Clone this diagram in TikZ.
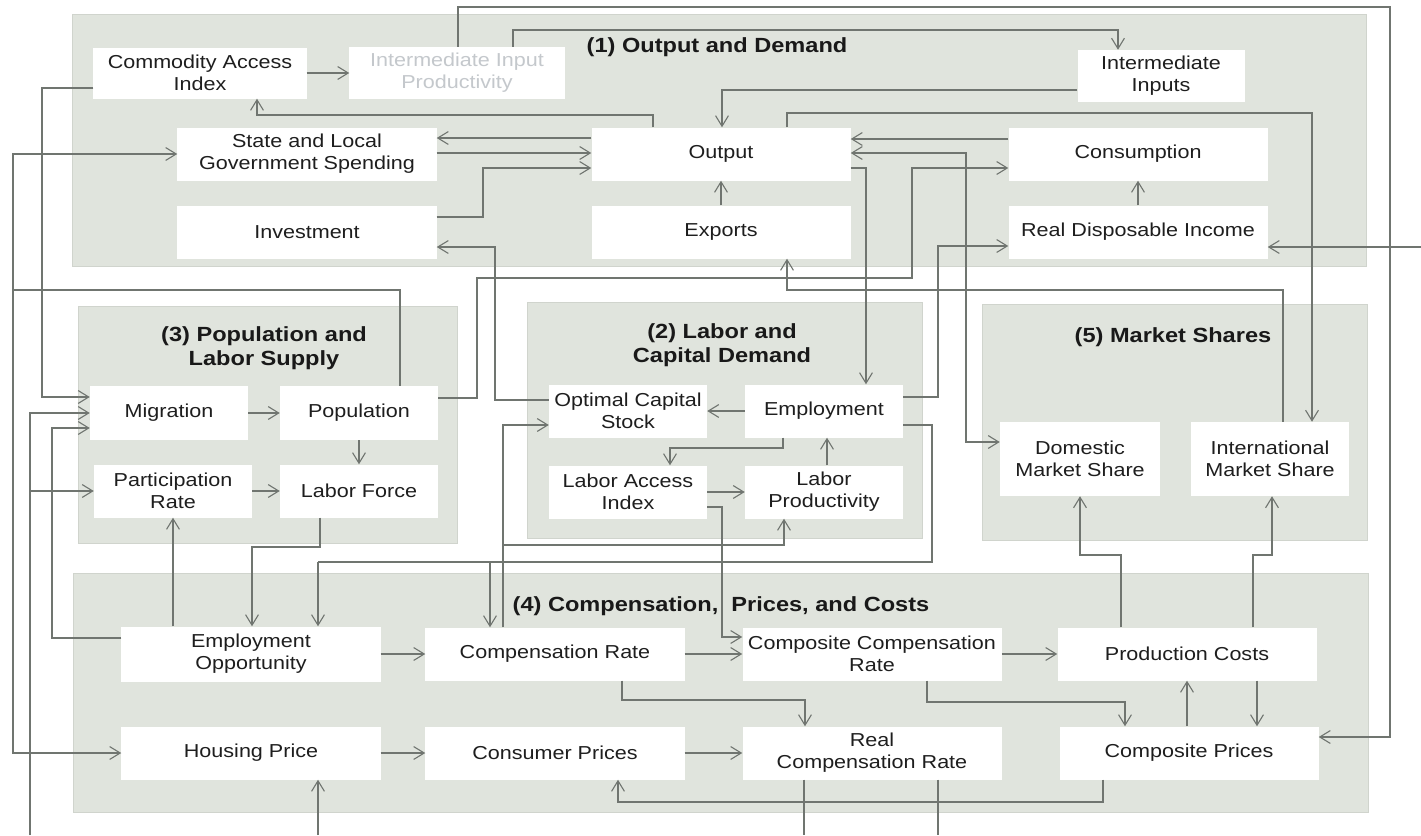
\documentclass[tikz,border=0pt]{standalone}
\usepackage{fontspec}
\setmainfont{Liberation Sans}[FakeStretch=1.15]
\usetikzlibrary{arrows.meta}
\definecolor{panelc}{RGB}{224,228,221}
\definecolor{panelb}{RGB}{208,212,205}
\definecolor{linec}{RGB}{112,117,112}
\definecolor{textc}{RGB}{30,30,30}
\definecolor{fadec}{RGB}{196,200,204}
\newcommand{\blkfont}{\fontsize{16}{19}\selectfont}
\newcommand{\ttlfont}{\fontsize{17.5}{20}\selectfont\bfseries}
\tikzset{
  panel/.style={fill=panelc,draw=panelb,line width=0.8pt},
  blk/.style={fill=white,text=textc,align=center,inner sep=0pt,font=\blkfont},
  wideblk/.style={blk,minimum width=7.77cm,minimum height=1.59cm},
  smallblk/.style={blk,minimum width=4.74cm,minimum height=1.59cm},
  ttl/.style={text=black!90,align=center,font=\ttlfont},
  ln/.style={draw=linec,line width=0.95pt},
  arr/.style={ln,-{Straight Barb[length=9pt,width=11pt]}},
  biarr/.style={ln,{Straight Barb[length=9pt,width=11pt]}-{Straight Barb[length=9pt,width=11pt]}}
}
\begin{document}
\begin{tikzpicture}[x=0.03cm,y=-0.03cm]
\useasboundingbox[fill=white] (0,0) rectangle (1421,835);
% panels
\draw[panel](72,14)rectangle(1366,266);
\draw[panel](78,306)rectangle(457,543);
\draw[panel](527,302)rectangle(922,538);
\draw[panel](982,304)rectangle(1367,540);
\draw[panel](73,573)rectangle(1368,812);
\node[ttl](t1)at(717,47){(1) Output and Demand};
\node[ttl](t3)at(264,348){(3) Population and\\Labor Supply};
\node[ttl](t2)at(722,345){(2) Labor and\\Capital Demand};
\node[ttl](t5)at(1173,337){(5) Market Shares};
\node[ttl](t4)at(721,606){(4) Compensation,~ Prices, and Costs};
% (1)
\node[blk,minimum width=6.39cm,minimum height=1.53cm](cai)at(200,73){Commodity Access\\Index};
\node[blk,minimum width=6.45cm,minimum height=1.56cm,text=fadec](iip)at(457,73){Intermediate Input\\Productivity};
\node[blk,minimum width=5.01cm,minimum height=1.56cm](ii)at(1161,76){Intermediate\\Inputs};
\node[wideblk](slgs)at(307,154){State and Local\\Government Spending};
\node[wideblk](out)at(721,154){Output};
\node[wideblk](cons)at(1138,154){Consumption};
\node[wideblk](inv)at(307,232){Investment};
\node[wideblk](exp)at(721,232){Exports};
\node[wideblk](rdi)at(1138,232){Real Disposable Income};
% (3)
\node[smallblk,minimum height=1.62cm](mig)at(169,413){Migration};
\node[smallblk,minimum height=1.62cm](pop)at(359,413){Population};
\node[smallblk](pr)at(173,491){Participation\\Rate};
\node[smallblk](lf)at(359,491){Labor Force};
% (2)
\node[smallblk](ocs)at(628,411){Optimal Capital\\Stock};
\node[smallblk](emp)at(824,411){Employment};
\node[smallblk](lai)at(628,492){Labor Access\\Index};
\node[smallblk](lp)at(824,492){Labor\\Productivity};
% (5)
\node[blk,minimum width=4.8cm,minimum height=2.22cm](dms)at(1080,459){Domestic\\Market Share};
\node[blk,minimum width=4.74cm,minimum height=2.22cm](ims)at(1270,459){International\\Market Share};
% (4)
\node[wideblk,minimum height=1.65cm](eo)at(251,654){Employment\\Opportunity};
\node[wideblk](cr)at(555,654){Compensation Rate};
\node[wideblk](ccr)at(872,654){Composite Compensation\\Rate};
\node[wideblk](pc)at(1187,654){Production Costs};
\node[wideblk](hp)at(251,753){Housing Price};
\node[wideblk](cp)at(555,753){Consumer Prices};
\node[wideblk](rcr)at(872,753){Real\\Compensation Rate};
\node[wideblk](comp)at(1189,753){Composite Prices};
% links in (1)
\draw[arr](cai.east)--(iip.west);
\draw[arr](out.north -| 653,0)|-(257,115)--(cai.south -| 257,0);
\draw[arr](iip.north -| 513,0)|-(1118,30)--(ii.north -| 1118,0);
\draw[arr](iip.north -| 458,0)|-(1390,7)|-(comp.east |- 0,737);
\draw[arr](ii.west |- 0,90)-|(out.north -| 722,0);
\draw[arr](out.north -| 787,0)|-(1312,113)--(ims.north -| 1312,0);
\draw[arr](cons.west |- 0,139)--(out.east |- 0,139);
\draw[biarr](out.east |- 0,153)-|(966,442)--(dms.west |- 0,442);
\draw[arr](out.east |- 0,168)-|(emp.north -| 866,0);
\draw[arr](out.west |- 0,138)--(slgs.east |- 0,138);
\draw[arr](slgs.east |- 0,153)--(out.west |- 0,153);
\draw[arr](inv.east |- 0,217)-|(483,168)--(out.west |- 0,168);
\draw[arr](ocs.west |- 0,400)-|(495,247)--(inv.east |- 0,247);
\draw[arr](ims.north -| 1283,0)|-(787,290)--(exp.south -| 787,0);
\draw[arr](emp.east |- 0,397)-|(938,246)--(rdi.west |- 0,246);
\draw[arr](rdi.north)--(cons.south);
\draw[arr](exp.north)--(out.south);
\draw[arr](1421,247)--(rdi.east |- 0,247);
\draw[arr](pop.east |- 0,398)-|(477,278)-|(912,168)--(cons.west |- 0,168);
% links to (3)
\draw[arr](cai.west |- 0,88)-|(42,397)--(mig.west |- 0,397);
\draw[ln](pop.north -| 400,0)|-(13,290)coordinate(kP);
\draw[arr](kP)|-(slgs.west);
\draw[arr](kP)|-(hp.west);
\draw[arr](30,835)|-(mig.west |- 0,413);
\draw[arr](30,835)|-(pr.west);
\draw[arr](eo.west |- 0,638)-|(52,428)--(mig.west |- 0,428);
\draw[arr](mig.east)--(pop.west);
\draw[arr](pop.south)--(lf.north);
\draw[arr](pr.east)--(lf.west);
\draw[arr](lf.south -| 320,0)|-(252,547)--(eo.north -| 252,0);
\draw[arr](eo.north -| 173,0)--(pr.south -| 173,0);
% links in (2)
\draw[ln](emp.east |- 0,425)-|(932,562)--(318,562);
\draw[arr](318,562)--(eo.north -| 318,0);
\draw[arr](490,562)--(cr.north -| 490,0);
\draw[arr](cr.north -| 503,0)|-(ocs.west |- 0,425);
\draw[arr](503,545)-|(lp.south -| 784,0);
\draw[arr](lai.east |- 0,507)-|(722,637)--(ccr.west |- 0,637);
\draw[arr](lai.east)--(lp.west);
\draw[arr](lp.north -| 827,0)--(emp.south -| 827,0);
\draw[arr](emp.west)--(ocs.east);
\draw[arr](emp.south -| 783,0)|-(670,448)--(lai.north -| 670,0);
% links in (4)
\draw[arr](eo.east)--(cr.west);
\draw[arr](cr.east)--(ccr.west);
\draw[arr](ccr.east)--(pc.west);
\draw[arr](cr.south -| 622,0)|-(805,700)--(rcr.north -| 805,0);
\draw[arr](ccr.south -| 927,0)|-(1125,702)--(comp.north -| 1125,0);
\draw[arr](comp.north -| 1187,0)--(pc.south -| 1187,0);
\draw[arr](pc.south -| 1257,0)--(comp.north -| 1257,0);
\draw[arr](pc.north -| 1121,0)|-(1080,555)--(dms.south -| 1080,0);
\draw[arr](pc.north -| 1253,0)|-(1272,555)--(ims.south -| 1272,0);
\draw[arr](hp.east)--(cp.west);
\draw[arr](cp.east)--(rcr.west);
\draw[arr](comp.south -| 1103,0)|-(618,802)--(cp.south -| 618,0);
\draw[arr](318,835)--(hp.south -| 318,0);
\draw[ln](rcr.south -| 804,0)--(804,835);
\draw[ln](rcr.south -| 938,0)--(938,835);
\end{tikzpicture}
\end{document}
